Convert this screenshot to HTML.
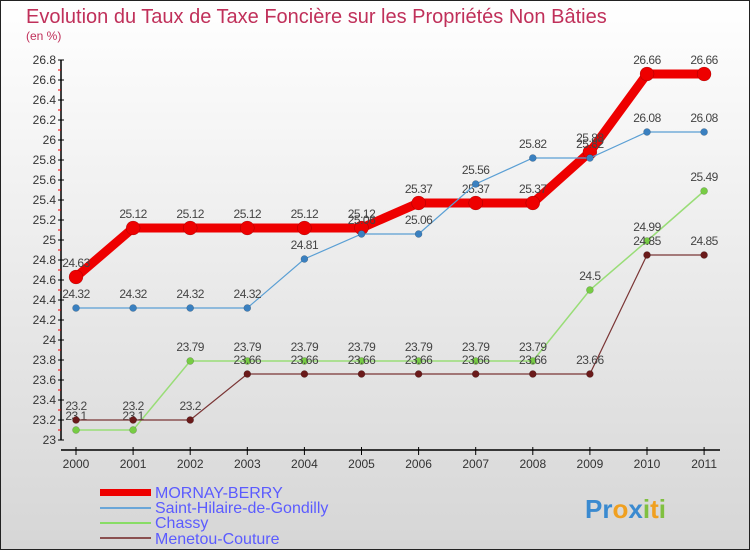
<!DOCTYPE html>
<html><head><meta charset="utf-8"><style>
body{margin:0}
#c{width:750px;height:550px;position:relative;overflow:hidden;box-sizing:border-box;border:1px solid #222;background:linear-gradient(#ffffff,#d6d6d6);font-family:"Liberation Sans",sans-serif}
</style></head><body>
<div id="c">
<svg width="750" height="550" id="svg" style="position:absolute;left:-1px;top:-1px">
<text x="26" y="23" font-size="20" fill="#c0305a">Evolution du Taux de Taxe Foncière sur les Propriétés Non Bâties</text>
<text x="26" y="40" font-size="12" fill="#c0305a">(en %)</text>
<g id="axes"></g><g id="series"></g>
<g font-size="16" fill="#5b5bff">
<rect x="100" y="489" width="51" height="7" fill="#ee0000"/>
<text x="155" y="498">MORNAY-BERRY</text>
<rect x="100" y="507" width="51" height="2" fill="#6aa6d8"/>
<text x="155" y="513">Saint-Hilaire-de-Gondilly</text>
<rect x="100" y="522" width="51" height="2" fill="#88dd66"/>
<text x="155" y="528">Chassy</text>
<rect x="100" y="537" width="51" height="2" fill="#8a5050"/>
<text x="155" y="544">Menetou-Couture</text>
</g>
<text x="585" y="518" font-size="26" font-weight="bold"><tspan fill="#3a8ad0">Pr</tspan><tspan fill="#f0a020">o</tspan><tspan fill="#3a8ad0">x</tspan><tspan fill="#80c040">i</tspan><tspan fill="#f0a020">t</tspan><tspan fill="#80c040">i</tspan></text>
</svg>
<script>
const years=[2000,2001,2002,2003,2004,2005,2006,2007,2008,2009,2010,2011];
const mornay=[24.63,25.12,25.12,25.12,25.12,25.12,25.37,25.37,25.37,25.88,26.66,26.66];
const hilaire=[24.32,24.32,24.32,24.32,24.81,25.06,25.06,25.56,25.82,25.82,26.08,26.08];
const chassy=[23.1,23.1,23.79,23.79,23.79,23.79,23.79,23.79,23.79,24.5,24.99,25.49];
const menetou=[23.2,23.2,23.2,23.66,23.66,23.66,23.66,23.66,23.66,23.66,24.85,24.85];
const yTicks=[23,23.2,23.4,23.6,23.8,24,24.2,24.4,24.6,24.8,25,25.2,25.4,25.6,25.8,26,26.2,26.4,26.6,26.8];
const NS="http://www.w3.org/2000/svg";
const xs=i=>76+i*57.1;
const ys=v=>440-(v-23)*100;
function mk(t,a,p){const e=document.createElementNS(NS,t);for(const k in a)e.setAttribute(k,a[k]);p.appendChild(e);return e;}
const ax=document.getElementById('axes');
let l=mk('line',{x1:61,y1:60,x2:61,y2:440,stroke:'#000','stroke-width':1.5},ax);


l=mk('line',{x1:61,y1:450,x2:720,y2:450,stroke:'#000','stroke-width':1.5},ax);


yTicks.forEach((v,i)=>{
 mk('line',{x1:58,y1:ys(v),x2:64,y2:ys(v),stroke:'#000'},ax);
 if(i<yTicks.length-1)mk('line',{x1:58,y1:ys(v)-10,x2:61,y2:ys(v)-10,stroke:'#e00'},ax);
 const t=mk('text',{x:56,y:ys(v)+4,'text-anchor':'end','font-size':12,fill:'#333'},ax);
 t.textContent=String(v);
 
 
});
years.forEach((y,i)=>{
 mk('line',{x1:xs(i),y1:447,x2:xs(i),y2:455,stroke:'#000'},ax);
 const t=mk('text',{x:xs(i),y:468,'text-anchor':'middle','font-size':12,fill:'#333'},ax);
 t.textContent=y;
 
 
});
const sg=document.getElementById('series');
function draw(vals,color,w,r,name,dark){
 const g=mk('g',{},sg);
 
 
 const p=mk('polyline',{points:vals.map((v,i)=>xs(i)+','+ys(v)).join(' '),fill:'none',stroke:color,'stroke-width':w},g);
 
 
 vals.forEach((v,i)=>{
  const c=mk('circle',{cx:xs(i),cy:ys(v),r:r,fill:dark,stroke:'rgba(0,0,0,0.3)','stroke-width':0.5},g);
  
  
  const t=mk('text',{x:xs(i),y:ys(v)-10,'text-anchor':'middle','font-size':12,fill:'#444','letter-spacing':'-0.5'},g);
  t.textContent=String(v);
  
  
 });
}
draw(mornay,'#ee0000',9,7,'mornay','#ee0000');
draw(hilaire,'#5a9fd4',1.2,3.5,'saint-hilaire','#3a80c0');
draw(chassy,'#99dd77',1.5,3.5,'chassy','#77cc44');
draw(menetou,'#7a3535',1.2,3.5,'menetou','#6a1a1a');
</script>
</div>
</body></html>
